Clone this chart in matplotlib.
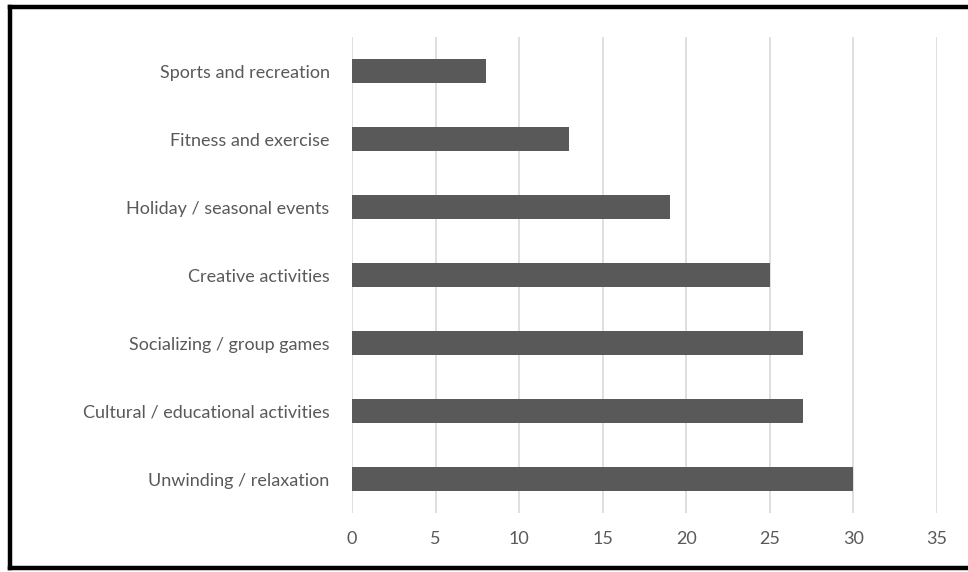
import matplotlib
matplotlib.use("Agg")
import matplotlib.pyplot as plt
from matplotlib.lines import Line2D


# =========================
# data
# =========================

categories = [
    "Unwinding / relaxation",
    "Cultural / educational activities",
    "Socializing / group games",
    "Creative activities",
    "Holiday / seasonal events",
    "Fitness and exercise",
    "Sports and recreation",
]

values = [30, 27, 27, 25, 19, 13, 8]

x_ticks = [0, 5, 10, 15, 20, 25, 30, 35]


# =========================
# figure
# =========================

plt.rcParams["font.family"] = ["Lato", "DejaVu Sans"]

fig = plt.figure(figsize=(9.68, 5.72), dpi=100)
ax = fig.add_axes([0.3636, 0.1031, 0.6044, 0.8322])

ax.barh(
    range(len(categories)),
    values,
    height=0.35,
    color="#595959",
    zorder=3
)

ax.set_yticks(range(len(categories)))
ax.set_yticklabels(categories)
ax.set_ylim(-0.5, len(categories) - 0.5)

ax.set_xticks(x_ticks)
ax.set_xlim(0, 35)

ax.grid(axis="x", color="#d9d9d9", linewidth=1.2, zorder=0)
ax.set_axisbelow(True)

for s in ax.spines.values():
    s.set_visible(False)

ax.tick_params(axis="both", length=0, labelsize=13, labelcolor="#595959")
ax.tick_params(axis="y", pad=16)
ax.tick_params(axis="x", pad=13)


# =========================
# black frame (no right side)
# =========================

lw = 3.2
fig.add_artist(Line2D([0.0108, 0.0108], [0.007, 0.987],
                      transform=fig.transFigure, color="black", linewidth=lw))
fig.add_artist(Line2D([0.0108, 1.0], [0.987, 0.987],
                      transform=fig.transFigure, color="black", linewidth=lw))
fig.add_artist(Line2D([0.0108, 1.0], [0.007, 0.007],
                      transform=fig.transFigure, color="black", linewidth=lw))

fig.savefig("out.png", dpi=100)
